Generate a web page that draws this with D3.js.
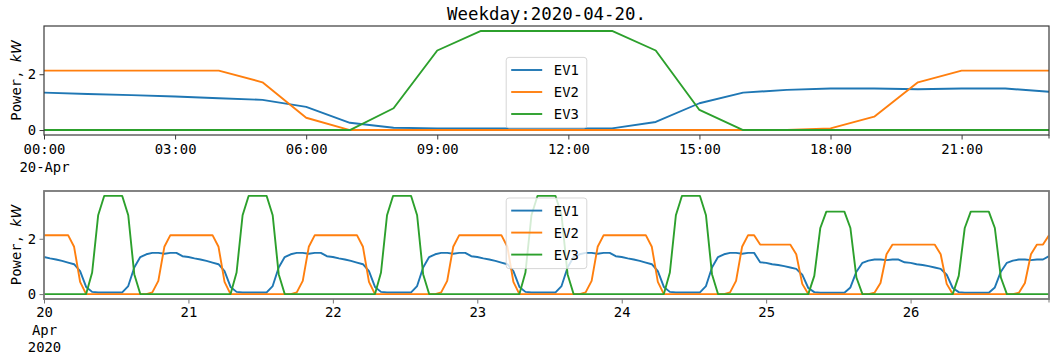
<!DOCTYPE html>
<html>
<head>
<meta charset="utf-8">
<script src="https://cdn.jsdelivr.net/npm/d3@7"></script>
<style>
  body { margin: 0; background: #fff; }
  svg { display: block; }
  text { font-family: "DejaVu Sans Mono", monospace; fill: #000; }
</style>
</head>
<body>
<svg id="chart" width="1052" height="359"></svg>
<script>
// ---- data: hourly charging power (kW), Mon 2020-04-20 00:00 .. Sun 2020-04-26 23:00 ----
const seriesNames = ["EV1", "EV2", "EV3"];
const seriesColors = ["#1f77b4", "#ff7f0e", "#2ca02c"];

const ev1Week = [
  1.34,1.29,1.25,1.20,1.14,1.08,0.83,0.26,0.08,0.06,0.06,0.06,0.06,0.06,0.29,0.96,1.34,1.44,1.49,1.49,1.46,1.49,1.49,1.37,
  1.34,1.29,1.25,1.20,1.14,1.08,0.83,0.26,0.08,0.06,0.06,0.06,0.06,0.06,0.29,0.96,1.34,1.44,1.49,1.49,1.46,1.49,1.49,1.37,
  1.34,1.29,1.25,1.20,1.14,1.08,0.83,0.26,0.08,0.06,0.06,0.06,0.06,0.06,0.29,0.96,1.34,1.44,1.49,1.49,1.46,1.49,1.49,1.37,
  1.34,1.29,1.25,1.20,1.14,1.08,0.83,0.26,0.08,0.06,0.06,0.06,0.06,0.06,0.29,0.96,1.34,1.44,1.49,1.49,1.46,1.49,1.49,1.37,
  1.34,1.29,1.25,1.20,1.14,1.08,0.83,0.26,0.08,0.06,0.06,0.06,0.06,0.06,0.29,0.96,1.34,1.44,1.49,1.49,1.46,1.49,1.49,1.15,
  1.13,1.08,1.05,1.01,0.96,0.91,0.70,0.22,0.07,0.05,0.05,0.05,0.05,0.05,0.24,0.81,1.13,1.21,1.25,1.25,1.23,1.25,1.25,1.15,
  1.13,1.08,1.05,1.01,0.96,0.91,0.70,0.22,0.07,0.05,0.05,0.05,0.05,0.05,0.24,0.81,1.13,1.21,1.25,1.25,1.23,1.25,1.25,1.37
];
const ev2Week = [
  2.13,2.13,2.13,2.13,2.13,1.71,0.44,0,0,0,0,0,0,0,0,0,0,0,0.06,0.48,1.71,2.13,2.13,2.13,
  2.13,2.13,2.13,2.13,2.13,1.71,0.44,0,0,0,0,0,0,0,0,0,0,0,0.06,0.48,1.71,2.13,2.13,2.13,
  2.13,2.13,2.13,2.13,2.13,1.71,0.44,0,0,0,0,0,0,0,0,0,0,0,0.06,0.48,1.71,2.13,2.13,2.13,
  2.13,2.13,2.13,2.13,2.13,1.71,0.44,0,0,0,0,0,0,0,0,0,0,0,0.06,0.48,1.71,2.13,2.13,2.13,
  2.13,2.13,2.13,2.13,2.13,1.71,0.44,0,0,0,0,0,0,0,0,0,0,0,0.06,0.48,1.71,2.13,2.13,1.79,
  1.79,1.79,1.79,1.79,1.79,1.44,0.37,0,0,0,0,0,0,0,0,0,0,0,0.05,0.40,1.44,1.79,1.79,1.79,
  1.79,1.79,1.79,1.79,1.79,1.44,0.37,0,0,0,0,0,0,0,0,0,0,0,0.05,0.40,1.44,1.79,1.79,2.13
];
const ev3Week = [
  0,0,0,0,0,0,0,0,0.78,2.85,3.55,3.55,3.55,3.55,2.85,0.72,0,0,0,0,0,0,0,0,
  0,0,0,0,0,0,0,0,0.78,2.85,3.55,3.55,3.55,3.55,2.85,0.72,0,0,0,0,0,0,0,0,
  0,0,0,0,0,0,0,0,0.78,2.85,3.55,3.55,3.55,3.55,2.85,0.72,0,0,0,0,0,0,0,0,
  0,0,0,0,0,0,0,0,0.78,2.85,3.55,3.55,3.55,3.55,2.85,0.72,0,0,0,0,0,0,0,0,
  0,0,0,0,0,0,0,0,0.78,2.85,3.55,3.55,3.55,3.55,2.85,0.72,0,0,0,0,0,0,0,0,
  0,0,0,0,0,0,0,0,0.66,2.39,2.98,2.98,2.98,2.98,2.39,0.60,0,0,0,0,0,0,0,0,
  0,0,0,0,0,0,0,0,0.66,2.39,2.98,2.98,2.98,2.98,2.39,0.60,0,0,0,0,0,0,0,0
];

const hourTicks = [0, 3, 6, 9, 12, 15, 18, 21];
const hourTickLabels = [["00:00", "20-Apr"], ["03:00"], ["06:00"], ["09:00"], ["12:00"], ["15:00"], ["18:00"], ["21:00"]];
const dayTicks = [20, 21, 22, 23, 24, 25, 26];
const dayTickLabels = [["20", "Apr", "2020"], ["21"], ["22"], ["23"], ["24"], ["25"], ["26"]];
const powerTicks = [0, 2];
const titleText = "Weekday:2020-04-20.";

// ---- layout ----
const svg = d3.select("#chart");
const left = 44, right = 1049;
const fontSize = 13.9;
const lineGap = 17.5;

const weekStart = new Date(2020, 3, 20, 0, 0);
const weekDates = d3.timeHour.range(weekStart, new Date(2020, 3, 27, 0, 0));
const dayDates = weekDates.slice(0, 24);

function drawPanel(opt) {
  const g = svg.append("g");
  const x = d3.scaleTime().domain(d3.extent(opt.dates)).range([left, right]);
  const allVals = opt.series.flat();
  const lo = d3.min(allVals), hi = d3.max(allVals);
  const pad = (hi - lo) * 0.05;
  const y = d3.scaleLinear().domain([lo - pad, hi + pad]).range([opt.bottom, opt.top]);

  // data lines
  const line = d3.line().x((d, i) => x(opt.dates[i])).y(d => y(d));
  opt.series.forEach((vals, k) => {
    g.append("path")
      .attr("d", line(vals))
      .attr("fill", "none")
      .attr("stroke", seriesColors[k])
      .attr("stroke-width", 1.9)
      .attr("stroke-linejoin", "round")
      .attr("stroke-linecap", "butt");
  });

  // x axis ticks + multi-line labels
  const xAxis = d3.axisBottom(x).tickValues(opt.tickDates).tickSize(4.5).tickSizeOuter(0).tickFormat("");
  const gx = g.append("g").attr("transform", `translate(0,${opt.bottom})`).call(xAxis);
  gx.select(".domain").remove();
  gx.selectAll(".tick line").attr("stroke", opt.spineColor).attr("stroke-width", 1);
  gx.selectAll(".tick").each(function (d, i) {
    const t = d3.select(this).append("text")
      .attr("text-anchor", "middle")
      .attr("font-size", fontSize)
      .attr("y", opt.labelBaseline);
    opt.tickLabels[i].forEach((s, j) => {
      t.append("tspan").attr("x", 0).attr("dy", j === 0 ? 0 : lineGap).text(s);
    });
  });
  // small tick at the last sample
  g.append("line")
    .attr("x1", x(opt.dates[opt.dates.length - 1])).attr("x2", x(opt.dates[opt.dates.length - 1]))
    .attr("y1", opt.bottom).attr("y2", opt.bottom + 3.5)
    .attr("stroke", opt.spineColor).attr("stroke-width", 1);

  // y axis
  const yAxis = d3.axisLeft(y).tickValues(powerTicks).tickSize(4.5).tickPadding(3.5).tickSizeOuter(0).tickFormat(d3.format("d"));
  const gy = g.append("g").attr("transform", `translate(${left},0)`).call(yAxis);
  gy.select(".domain").remove();
  gy.selectAll(".tick line").attr("stroke", opt.spineColor).attr("stroke-width", 1);
  gy.selectAll(".tick text")
    .attr("font-size", fontSize)
    .attr("font-family", "DejaVu Sans Mono")
    .attr("fill", "#000");

  // y label
  const yl = g.append("text")
    .attr("transform", `translate(20.5,${(opt.top + opt.bottom) / 2}) rotate(-90)`)
    .attr("text-anchor", "middle")
    .attr("font-size", fontSize);
  yl.append("tspan").text("Power, ");
  yl.append("tspan").attr("font-family", "DejaVu Sans").attr("font-style", "italic").text("kW");

  // spines
  g.append("rect")
    .attr("x", left).attr("y", opt.top)
    .attr("width", right - left).attr("height", opt.bottom - opt.top)
    .attr("fill", "none").attr("stroke", opt.spineColor).attr("stroke-width", opt.spineWidth);

  // legend
  const lw = 80.6, lh = 70.6;
  const lx = (left + right) / 2 - lw / 2;
  const ly = opt.legendLoc === "lower" ? opt.bottom - 7 - lh : opt.top + 7;
  const lg = g.append("g").attr("transform", `translate(${lx},${ly})`);
  lg.append("rect")
    .attr("width", lw).attr("height", lh).attr("rx", 2.8)
    .attr("fill", "rgba(255,255,255,0.8)")
    .attr("stroke", "rgba(204,204,204,0.8)").attr("stroke-width", 1);
  seriesNames.forEach((name, k) => {
    const cy = 12.6 + k * 22;
    lg.append("line")
      .attr("x1", 5).attr("x2", 36).attr("y1", cy).attr("y2", cy)
      .attr("stroke", seriesColors[k]).attr("stroke-width", 1.9);
    lg.append("text")
      .attr("x", 47.6).attr("y", cy).attr("dy", "0.36em")
      .attr("font-size", fontSize).text(name);
  });

  if (opt.title) {
    g.append("text")
      .attr("x", (left + right) / 2).attr("y", 20)
      .attr("text-anchor", "middle")
      .attr("font-size", 17.4)
      .text(opt.title);
  }
}

// weekday panel (first 24 hours)
drawPanel({
  top: 26, bottom: 135,
  dates: dayDates,
  series: [ev1Week.slice(0, 24), ev2Week.slice(0, 24), ev3Week.slice(0, 24)],
  tickDates: hourTicks.map(h => new Date(2020, 3, 20, h)),
  tickLabels: hourTickLabels,
  labelBaseline: 19,
  legendLoc: "lower",
  spineColor: "#3a3a3a", spineWidth: 1.2,
  title: titleText
});

// full week panel
drawPanel({
  top: 191, bottom: 299,
  dates: weekDates,
  series: [ev1Week, ev2Week, ev3Week],
  tickDates: dayTicks.map(d => new Date(2020, 3, d)),
  tickLabels: dayTickLabels,
  labelBaseline: 18.3,
  legendLoc: "upper",
  spineColor: "#777", spineWidth: 1.8
});
</script>
</body>
</html>
